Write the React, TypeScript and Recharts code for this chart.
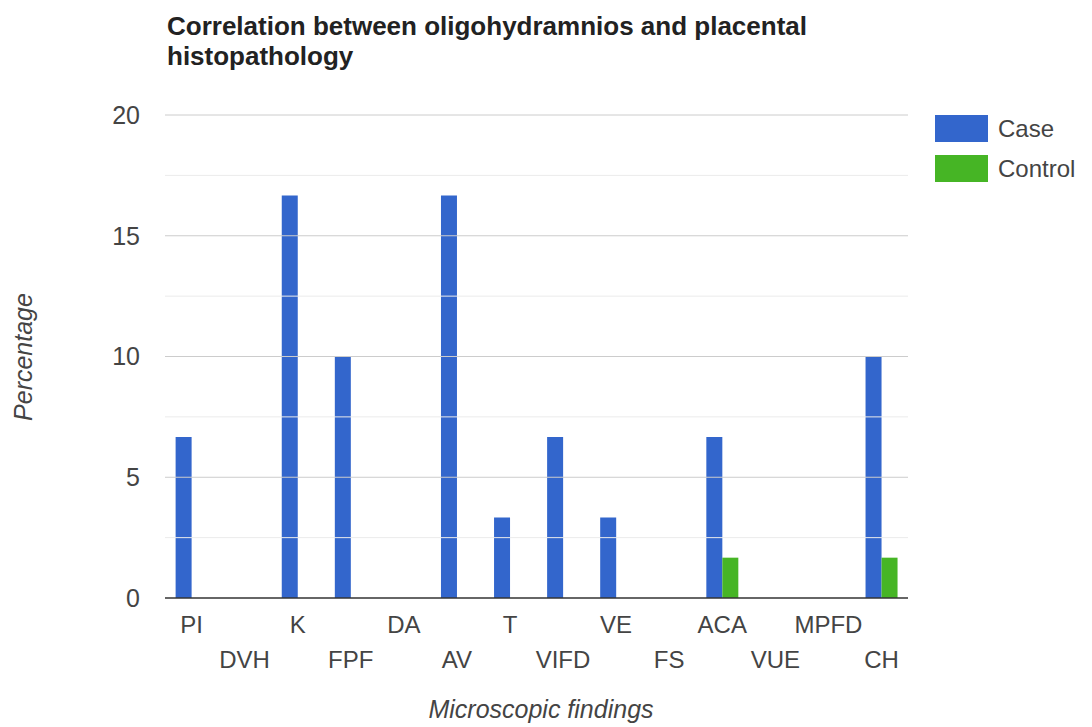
import React from 'react';
import {
  BarChart,
  Bar,
  XAxis,
  YAxis,
  ReferenceLine,
} from 'recharts';

// ============================================
// DATA
// ============================================

const CATEGORIES = ['PI', 'DVH', 'K', 'FPF', 'DA', 'AV', 'T', 'VIFD', 'VE', 'FS', 'ACA', 'VUE', 'MPFD', 'CH'];
const CASE_VALUES = [6.67, 0, 16.67, 10, 0, 16.67, 3.33, 6.67, 3.33, 0, 6.67, 0, 0, 10];
const CONTROL_VALUES = [0, 0, 0, 0, 0, 0, 0, 0, 0, 0, 1.67, 0, 0, 1.67];
const Y_TICKS = [0, 5, 10, 15, 20];
const MAJOR_LINES = [5, 10, 15, 20];
const MINOR_LINES = [2.5, 7.5, 12.5, 17.5];

const SERIES = [
  { key: 'case', name: 'Case', color: '#3366cc' },
  { key: 'control', name: 'Control', color: '#46b525' },
];

const FONT = '"Liberation Sans", Arial, sans-serif';
const TEXT_COLOR = '#444444';

// ============================================
// HELPERS
// ============================================

// category labels alternate between two rows, like the original
function StaggeredTick(props: any) {
  const { x, y, payload, index } = props;
  const dy = index % 2 === 0 ? 35 : 70;
  return (
    <text x={x} y={y + dy} textAnchor="middle" fill={TEXT_COLOR} fontSize={24} fontFamily={FONT}>
      {payload.value}
    </text>
  );
}

function ChartLegend() {
  return (
    <div style={{ position: 'absolute', left: 935, top: 115, fontFamily: FONT }}>
      {SERIES.map((s) => (
        <div key={s.key} style={{ display: 'flex', alignItems: 'center', height: 27, marginBottom: 13 }}>
          <div style={{ width: 53, height: 27, backgroundColor: s.color }} />
          <span style={{ marginLeft: 10, fontSize: 24, color: TEXT_COLOR }}>{s.name}</span>
        </div>
      ))}
    </div>
  );
}

// ============================================
// COMPONENT
// ============================================

export default function App() {
  const chartData = CATEGORIES.map((name, i) => ({
    name,
    case: CASE_VALUES[i],
    control: CONTROL_VALUES[i],
  }));

  return (
    <div style={{ position: 'absolute', left: 0, top: 0, width: 1092, height: 727, background: '#fff' }}>
      {/* Title */}
      <div
        style={{
          position: 'absolute',
          left: 167,
          top: 11,
          fontFamily: FONT,
          fontWeight: 'bold',
          fontSize: 26,
          lineHeight: '30px',
          color: '#222',
          whiteSpace: 'nowrap',
        }}
      >
        Correlation between oligohydramnios and placental
        <br />
        histopathology
      </div>

      <BarChart
        width={1092}
        height={727}
        data={chartData}
        margin={{ top: 115, right: 184, left: 115, bottom: 29 }}
        barCategoryGap="20%"
        barGap={0}
      >
        {MINOR_LINES.map((v) => (
          <ReferenceLine key={`minor-${v}`} y={v} stroke="#ebebeb" strokeWidth={1} />
        ))}
        {MAJOR_LINES.map((v) => (
          <ReferenceLine key={`major-${v}`} y={v} stroke="#cccccc" strokeWidth={1} />
        ))}
        <XAxis
          dataKey="name"
          height={100}
          interval={0}
          tick={<StaggeredTick />}
          tickSize={0}
          tickMargin={0}
          tickLine={false}
          axisLine={{ stroke: '#333333', strokeWidth: 1.5 }}
        />
        <YAxis
          width={50}
          domain={[0, 20]}
          ticks={Y_TICKS}
          tickSize={0}
          tickMargin={25}
          axisLine={false}
          tickLine={false}
          tick={{ fill: TEXT_COLOR, fontSize: 25, fontFamily: FONT }}
        />
        {SERIES.map((s) => (
          <Bar key={s.key} dataKey={s.key} name={s.name} fill={s.color} isAnimationActive={false} />
        ))}
      </BarChart>

      <ChartLegend />

      {/* Axis titles */}
      <div
        style={{
          position: 'absolute',
          left: 541,
          top: 697,
          transform: 'translateX(-50%)',
          fontFamily: FONT,
          fontStyle: 'italic',
          fontSize: 25,
          lineHeight: '25px',
          color: TEXT_COLOR,
          whiteSpace: 'nowrap',
        }}
      >
        Microscopic findings
      </div>
      <div
        style={{
          position: 'absolute',
          left: 23,
          top: 357,
          transform: 'translate(-50%, -50%) rotate(-90deg)',
          fontFamily: FONT,
          fontStyle: 'italic',
          fontSize: 25,
          lineHeight: '25px',
          color: TEXT_COLOR,
          whiteSpace: 'nowrap',
        }}
      >
        Percentage
      </div>
    </div>
  );
}
